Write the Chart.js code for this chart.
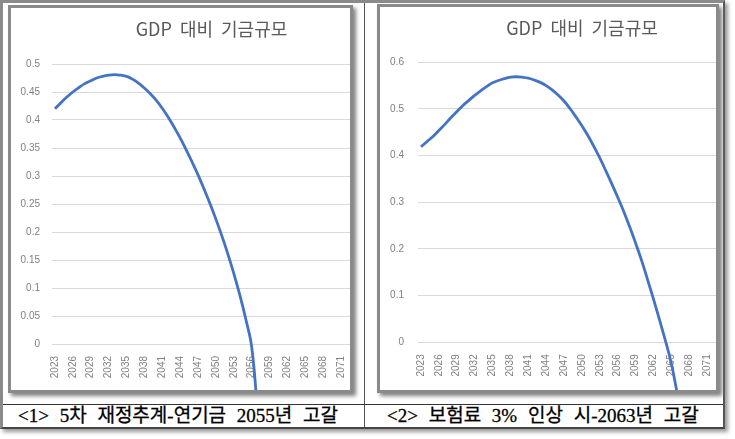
<!DOCTYPE html>
<html>
<head>
<meta charset="utf-8">
<script src="https://cdn.jsdelivr.net/npm/chart.js@4.4.1/dist/chart.umd.min.js"></script>
<style>
body { margin: 0; background: #fff; width: 735px; height: 439px; overflow: hidden; position: relative; }
#outer { position: absolute; left: 0; top: 0; width: 725px; height: 429px; box-sizing: border-box;
  border-top: 3px solid #8a8a8a; border-left: 3px solid #8a8a8a; border-right: 2px solid #555; border-bottom: 2px solid #444;
  box-shadow: 3px 3px 4px #9a9a9a; }
#divider { position: absolute; left: 364px; top: 3px; width: 1px; height: 424px; background: #555; }
#sep { position: absolute; left: 3px; top: 404px; width: 720px; height: 1px; background: #333; }
.frame { position: absolute; box-sizing: border-box; border: 3px solid #8a8a8a; background: #fff; box-shadow: 3px 3px 4px #808080; }
.frame canvas { display: block; }
#frameL { left: 8px; top: 5px; width: 345px; height: 388px; }
#frameR { left: 377px; top: 4px; width: 342px; height: 389px; }
.cap { position: absolute; top: 405px; height: 22px; line-height: 22px; font-family: "Liberation Serif", "Noto Sans CJK KR", serif;
  font-size: 19px; color: #000; white-space: nowrap; word-spacing: 6px; -webkit-text-stroke: 0.3px #000; }
#capL { left: 18px; }
#capR { left: 387px; }
</style>
</head>
<body>
<div id="outer"></div>
<div id="divider"></div>
<div id="sep"></div>
<div class="frame" id="frameL"><canvas id="chartL" width="339" height="382"></canvas></div>
<div class="frame" id="frameR"><canvas id="chartR" width="336" height="383"></canvas></div>
<div class="cap" id="capL">&lt;1&gt; 5차 재정추계-연기금 2055년 고갈</div>
<div class="cap" id="capR">&lt;2&gt; 보험료 3% 인상 시-2063년 고갈</div>

<script>
// categories (years on the x axis)
const years = ['2023','2024','2025','2026','2027','2028','2029','2030','2031','2032',
  '2033','2034','2035','2036','2037','2038','2039','2040','2041','2042',
  '2043','2044','2045','2046','2047','2048','2049','2050','2051','2052',
  '2053','2054','2055','2056','2057','2058','2059','2060','2061','2062',
  '2063','2064','2065','2066','2067','2068','2069','2070','2071','2072'];

// <1> 5th actuarial projection - fund / GDP
const fundBase = [0.420, 0.431, 0.441, 0.450, 0.458, 0.465, 0.470, 0.475, 0.478, 0.480,
  0.481, 0.480, 0.478, 0.473, 0.466, 0.457, 0.447, 0.435, 0.421, 0.405,
  0.387, 0.368, 0.347, 0.325, 0.302, 0.277, 0.251, 0.223, 0.193, 0.161,
  0.126, 0.088, 0.045, -0.005, -0.12];

// <2> contribution +3%p - fund / GDP
const fundRaise = [0.419, 0.430, 0.441, 0.454, 0.467, 0.481, 0.494, 0.507, 0.518, 0.529,
  0.539, 0.548, 0.556, 0.561, 0.565, 0.568, 0.569, 0.568, 0.566, 0.562,
  0.557, 0.550, 0.541, 0.530, 0.517, 0.501, 0.483, 0.464, 0.443, 0.420,
  0.395, 0.368, 0.340, 0.311, 0.281, 0.248, 0.213, 0.176, 0.135, 0.093,
  0.049, 0.004, -0.045, -0.11];

const titleText = 'GDP 대비 기금규모';
const tickFont = { family: '"Liberation Sans", Arial, sans-serif', size: 10 };

// title drawn over the plot (Excel puts it a bit right of centre)
const titlePlugin = {
  id: 'gdpTitle',
  afterDraw(chart, args, opts) {
    const ctx = chart.ctx, area = chart.chartArea;
    ctx.save();
    ctx.font = '18px "Noto Sans CJK KR", sans-serif';
    ctx.wordSpacing = '4px';
    ctx.fillStyle = '#595959';
    ctx.textAlign = 'center';
    ctx.textBaseline = 'middle';
    ctx.fillText(opts.text, (area.left + area.right) / 2 + opts.shift, opts.y);
    ctx.restore();
  }
};

function makeChart(id, values, yMax, yStep, yWidth, yPad, xHeight, topPad, shift) {
  return new Chart(document.getElementById(id), {
    type: 'line',
    data: {
      labels: years,
      datasets: [{
        data: values,
        borderColor: '#4472c4',
        borderWidth: 2.8,
        pointRadius: 0,
        tension: 0.4,
        fill: false,
        clip: false
      }]
    },
    options: {
      responsive: false,
      animation: false,
      devicePixelRatio: 1,
      layout: { padding: { top: topPad, left: 0, right: 0, bottom: 0 } },
      plugins: {
        legend: { display: false },
        tooltip: { enabled: false },
        gdpTitle: { text: titleText, shift: shift, y: 21 }
      },
      scales: {
        x: {
          type: 'category',
          offset: true,
          grid: { display: false, drawTicks: false },
          border: { display: false },
          ticks: {
            autoSkip: false,
            minRotation: 90,
            maxRotation: 90,
            padding: 12,
            color: '#808080',
            font: tickFont,
            callback: function (v, i) { return i % 3 === 0 ? years[i] : ''; }
          },
          afterFit: function (s) {
            s.height = xHeight;
            s.paddingLeft = 0;
            s.paddingRight = 0;
          }
        },
        y: {
          min: 0,
          max: yMax,
          grid: { color: '#d9d9d9', lineWidth: 1, drawTicks: false },
          border: { display: false },
          ticks: {
            stepSize: yStep,
            padding: yPad,
            color: '#808080',
            font: tickFont,
            callback: function (v) { return String(+v.toFixed(2)); }
          },
          afterFit: function (s) { s.width = yWidth; }
        }
      }
    },
    plugins: [titlePlugin]
  });
}

makeChart('chartL', fundBase, 0.5, 0.05, 41, 12, 46, 56, 10.5);
makeChart('chartR', fundRaise, 0.6, 0.1, 38, 14, 47.7, 55.3, 15);
</script>
</body>
</html>
